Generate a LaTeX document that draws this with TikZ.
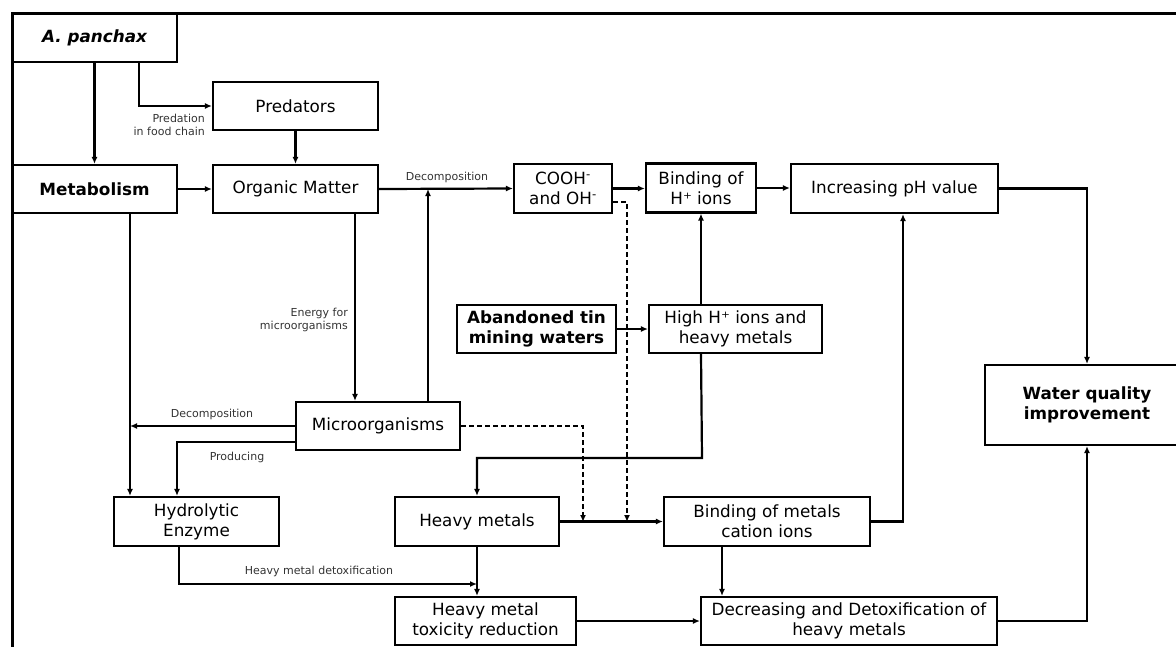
\documentclass[tikz,border=0pt]{standalone}
\usepackage{fontspec}
\setmainfont{DejaVu Sans}
\usetikzlibrary{arrows.meta,calc}
\tikzset{
  box/.style={draw, line width=2.1pt, rectangle, inner sep=0pt, align=center,
    font=\fontsize{16.8}{20}\selectfont},
  bbox/.style={box, font=\fontsize{16.8}{20}\selectfont\bfseries},
  arr/.style={line width=2.2pt, -{Latex[length=7pt,width=6pt]}},
  dsh/.style={arr, dash pattern=on 5pt off 3pt},
  lbl/.style={text=black!80, inner sep=0pt, font=\fontsize{11}{13}\selectfont}
}
\begin{document}
\begin{tikzpicture}[x=1pt,y=-1pt]
\useasboundingbox (0,0) rectangle (1176,646);
\begin{scope}
\clip (0,0) rectangle (1176,646);
\draw[line width=3pt] (12,13) rectangle (1200,700);
% nodes
\node[box, line width=2.4pt, minimum width=165pt, minimum height=49pt, font=\fontsize{16.8}{20}\selectfont\bfseries\itshape] (pan) at (94.5,37.5) {A. panchax};
\node[box, minimum width=165pt, minimum height=48pt] (pred) at (295.5,106) {Predators};
\node[bbox, minimum width=165pt, minimum height=48pt] (meta) at (94.5,189) {Metabolism};
\node[box, minimum width=165pt, minimum height=48pt] (org) at (295.5,189) {Organic Matter};
\node[box, minimum width=98pt, minimum height=49pt] (cooh) at (563,188.5) {COOH\textsuperscript{-}\\and OH\textsuperscript{-}};
\node[box, minimum width=110pt, minimum height=49pt] (bindh) at (701,188) {Binding of\\H⁺ ions};
\node[box, minimum width=207pt, minimum height=49pt] (incph) at (894.5,188.5) {Increasing pH value};
\node[bbox, minimum width=159pt, minimum height=48pt] (aband) at (536.5,329) {Abandoned tin\\mining waters};
\node[box, minimum width=173pt, minimum height=48pt] (high) at (735.5,329) {High H⁺ ions and\\heavy metals};
\node[bbox, minimum width=204pt, minimum height=80pt] (water) at (1087,405) {Water quality\\improvement};
\node[box, minimum width=164pt, minimum height=48pt] (micro) at (378,426) {Microorganisms};
\node[box, minimum width=165pt, minimum height=49pt] (hydro) at (196.5,521.5) {Hydrolytic\\Enzyme};
\node[box, minimum width=164pt, minimum height=49pt] (heavy) at (477,521.5) {Heavy metals};
\node[box, minimum width=206pt, minimum height=49pt] (bindm) at (767,521.5) {Binding of metals\\cation ions};
\node[box, minimum width=181pt, minimum height=48pt] (tox) at (485.5,621) {Heavy metal\\toxicity reduction};
\node[box, minimum width=296pt, minimum height=48pt] (decr) at (849,621) {Decreasing and Detoxification of\\heavy metals};
% junction coordinates
\coordinate (j1) at (428,189);
\coordinate (j2) at (627,522);
\coordinate (j3) at (583,522);
\coordinate (j4) at (130,426);
\coordinate (j5) at (477,584);
% connectors
\draw[arr] (pan.south) -- (meta.north);
\draw[arr] ([xshift=44.5pt]pan.south) |- (pred.west);
\draw[arr] (pred.south) -- (org.north);
\draw[arr] (meta.east) -- (org.west);
\draw[arr] (org.east) -- (cooh.west);
\draw[arr] (micro.north -| j1) -- (j1);
\draw[arr] (cooh.east) -- (cooh.east -| bindh.west);
\draw[arr] (bindh.east) -- (bindh.east -| incph.west);
\draw[dsh] ([yshift=-13.5pt]cooh.east) -| (j2);
\draw[arr] (aband.east) -- (high.west);
\draw[arr] (high.north -| bindh.south) -- (bindh.south);
\draw[arr] (high.south -| bindh.south) -- (702,458) -| (heavy.north);
\draw[arr] (incph.east) -| (water.north);
\draw[arr] (org.south -| 355,0) -- (micro.north -| 355,0);
\draw[arr] (meta.south -| j4) -- (hydro.north -| j4);
\draw[arr] (micro.west) -- (j4);
\draw[arr] ([yshift=-16pt]micro.west) -| (hydro.north -| 177,0);
\draw[arr] (hydro.south -| 179,0) |- (j5);
\draw[arr] (heavy.south) -- (heavy.south |- tox.north);
\draw[arr] (heavy.east) -- (bindm.west);
\draw[dsh] (micro.east) -| (j3);
\draw[arr] (bindm.east) -| (incph.south -| 903,0);
\draw[arr] (bindm.south -| 722,0) -- (decr.north -| 722,0);
\draw[arr] (tox.east) -- (decr.west);
\draw[arr] (decr.east) -| (water.south);
% labels
\node[lbl, align=right, anchor=east] (l1) at (205,124.5) {Predation\\in food chain};
\node[lbl] (l2) at (447,177) {Decomposition};
\node[lbl, align=right, anchor=east] (l3) at (348,320) {Energy for\\microorganisms};
\node[lbl] (l4) at (212,414) {Decomposition};
\node[lbl] (l5) at (237,457) {Producing};
\node[lbl] (l6) at (319,571) {Heavy metal detoxification};
\end{scope}
\end{tikzpicture}
\end{document}
